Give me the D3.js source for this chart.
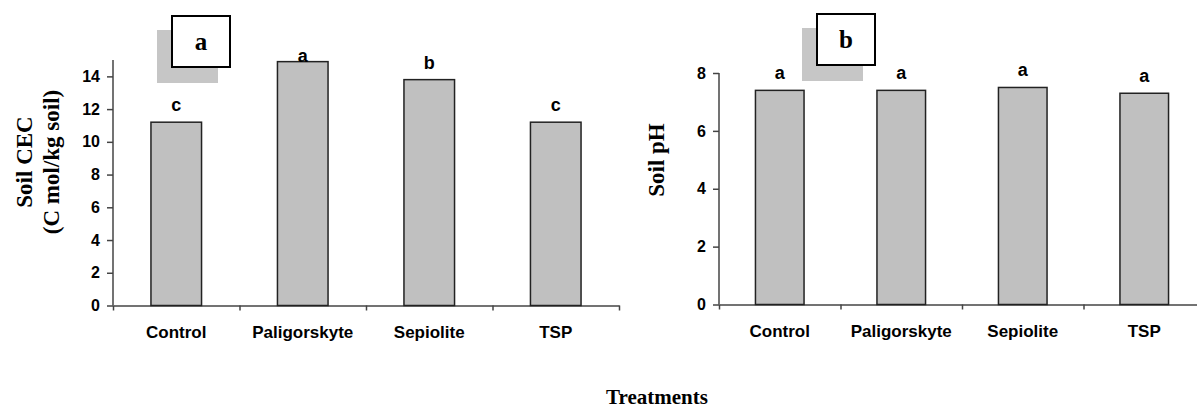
<!DOCTYPE html>
<html>
<head>
<meta charset="utf-8">
<script src="https://cdn.jsdelivr.net/npm/d3@7/dist/d3.min.js"></script>
<style>
  body { margin: 0; background: #fff; }
  svg { display: block; }
  .tick text { font: bold 16px "Liberation Sans", Arial, sans-serif; fill: #000; }
  .cat { font: bold 17px "Liberation Sans", Arial, sans-serif; }
  .letter { font: bold 18px "Liberation Sans", Arial, sans-serif; }
  .ylab, .title, .panel { font-family: "Liberation Serif", "Times New Roman", serif; font-weight: bold; }
</style>
</head>
<body>
<svg width="1197" height="411"></svg>
<script>
// data
const categories = ['Control', 'Paligorskyte', 'Sepiolite', 'TSP'];
const cecValues = [11.2, 14.9, 13.8, 11.2];
const cecLetters = ['c', 'a', 'b', 'c'];
const phValues = [7.4, 7.4, 7.5, 7.3];
const phLetters = ['a', 'a', 'a', 'a'];
const cecTicks = [0, 2, 4, 6, 8, 10, 12, 14];
const phTicks = [0, 2, 4, 6, 8];

const svg = d3.select('svg');
const AXIS = '#444';

function drawPanel(opts) {
  const g = svg.append('g');

  const x = d3.scaleBand().domain(categories).range([opts.left, opts.right]);
  const xIdx = d3.scaleLinear().domain([0, categories.length]).range([opts.left, opts.right]);
  const y = d3.scaleLinear().domain([0, opts.yMax]).range([opts.bottom, opts.top]);

  // y axis
  const yAxis = g.append('g')
    .attr('transform', `translate(${opts.left},0)`)
    .call(d3.axisLeft(y).tickValues(opts.ticks).tickSize(6).tickPadding(7).tickSizeOuter(0));
  yAxis.selectAll('path, line').attr('stroke', AXIS).attr('stroke-width', 1.5);
  yAxis.select('.domain').attr('d', `M0,${y(0)}V${y(opts.yMax)}`);

  // x axis, ticks on the category boundaries
  const xAxis = g.append('g')
    .attr('transform', `translate(0,${opts.bottom})`)
    .call(d3.axisBottom(xIdx).tickValues(d3.range(categories.length + 1)).tickFormat('').tickSize(5).tickSizeOuter(0));
  xAxis.selectAll('path, line').attr('stroke', AXIS).attr('stroke-width', 1.5);

  g.selectAll('.cat')
    .data(categories)
    .join('text')
    .attr('class', 'cat')
    .attr('x', (d) => x(d) + x.bandwidth() / 2)
    .attr('y', opts.bottom + 32)
    .attr('text-anchor', 'middle')
    .text((d) => d);

  // bars
  g.selectAll('.bar')
    .data(opts.values)
    .join('rect')
    .attr('class', 'bar')
    .attr('x', (d, i) => x(categories[i]) + x.bandwidth() * 0.3)
    .attr('width', x.bandwidth() * 0.4)
    .attr('y', (d) => y(d))
    .attr('height', (d) => y(0) - y(d))
    .attr('fill', '#c0c0c0')
    .attr('stroke', '#222')
    .attr('stroke-width', 1.5);

  // significance letters
  g.selectAll('.letter')
    .data(opts.values)
    .join('text')
    .attr('class', 'letter')
    .attr('x', (d, i) => x(categories[i]) + x.bandwidth() / 2)
    .attr('y', (d) => Math.max(y(d) - 11, y(opts.yMax) + 2))
    .attr('text-anchor', 'middle')
    .text((d, i) => opts.letters[i]);

  // y label (one or two lines)
  opts.ylabel.forEach((line, i) => {
    g.append('text')
      .attr('class', 'ylab')
      .attr('transform', `translate(${opts.ylabX + i * 27},${opts.ylabY}) rotate(-90)`)
      .attr('text-anchor', 'middle')
      .style('font-size', '23px')
      .text(line);
  });

  // panel tag with shadow
  const b = opts.box;
  g.append('rect')
    .attr('x', b.x - 15).attr('y', b.y + 14)
    .attr('width', 61).attr('height', 53)
    .attr('fill', '#c6c6c6');
  g.append('rect')
    .attr('x', b.x).attr('y', b.y)
    .attr('width', 58).attr('height', 51)
    .attr('fill', '#fff')
    .attr('stroke', '#000')
    .attr('stroke-width', 2);
  g.append('text')
    .attr('class', 'panel')
    .attr('x', b.x + 29)
    .attr('y', b.y + 34)
    .attr('text-anchor', 'middle')
    .style('font-size', '25px')
    .text(b.label);
}

drawPanel({
  left: 113, right: 619, top: 60, bottom: 305.5, yMax: 15,
  values: cecValues, letters: cecLetters, ticks: cecTicks,
  ylabel: ['Soil CEC', '(C mol/kg soil)'], ylabX: 32, ylabY: 162,
  box: { x: 172, y: 16, label: 'a' }
});

drawPanel({
  left: 719, right: 1205, top: 73, bottom: 304.5, yMax: 8,
  values: phValues, letters: phLetters, ticks: phTicks,
  ylabel: ['Soil pH'], ylabX: 664, ylabY: 160,
  box: { x: 817, y: 14, label: 'b' }
});

svg.append('text')
  .attr('class', 'title')
  .attr('x', 657)
  .attr('y', 404)
  .attr('text-anchor', 'middle')
  .style('font-size', '21px')
  .text('Treatments');
</script>
</body>
</html>
